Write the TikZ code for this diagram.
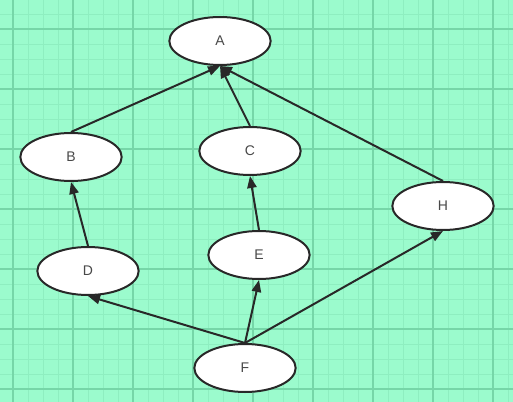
\documentclass[tikz,border=0pt]{standalone}
\usepackage{fontspec}
\setmainfont{Liberation Sans}
\usetikzlibrary{shapes.geometric,arrows.meta}

\definecolor{bgmint}{RGB}{155,251,205}
\definecolor{gridminor}{RGB}{142,238,192}
\definecolor{gridmajor}{RGB}{118,214,168}
\definecolor{inkdark}{RGB}{40,40,40}

\begin{document}
\begin{tikzpicture}[x=0.75pt,y=-0.75pt,
  vert/.style={ellipse,draw=inkdark,line width=1.5pt,fill=white,
    minimum width=76pt,minimum height=36pt,inner sep=0pt,
    font=\fontsize{10.5}{12}\selectfont,text=inkdark!85},
  edge/.style={draw=inkdark,line width=1.5pt,-{Triangle[length=9pt,width=7pt]}},
  minor/.style={gridminor,line width=0.6pt},
  major/.style={gridmajor,line width=0.8pt}]

% ---------- background grid ----------
\fill[bgmint] (0,0) rectangle (513,402);
\useasboundingbox (0,0) rectangle (513,402);
\foreach \x in {-2,13,...,513} \draw[minor] (\x,0) -- (\x,402);
\foreach \y in {-1,14,...,402} \draw[minor] (0,\y) -- (513,\y);
\foreach \x in {13,73,...,513} \draw[major] (\x,0) -- (\x,402);
\foreach \y in {29,89,...,402} \draw[major] (0,\y) -- (513,\y);

% ---------- vertices ----------
\node[vert] (A) at (220,41)  {A};
\node[vert] (B) at (71,157)  {B};
\node[vert] (C) at (250,151) {C};
\node[vert] (H) at (443,206) {H};
\node[vert] (D) at (88,271)  {D};
\node[vert] (E) at (259,255) {E};
\node[vert] (F) at (245,368) {F};

% ---------- edges ----------
\draw[edge] (B.north) -- (A.south);
\draw[edge] (C.north) -- (A.south);
\draw[edge] (H.north) -- (A.south);
\draw[edge] (D.north) -- (B.south);
\draw[edge] (E.north) -- (C.south);
\draw[edge] (F.north) -- (D.south);
\draw[edge] (F.north) -- (E.south);
\draw[edge] (F.north) -- (H.south);
\end{tikzpicture}
\end{document}
